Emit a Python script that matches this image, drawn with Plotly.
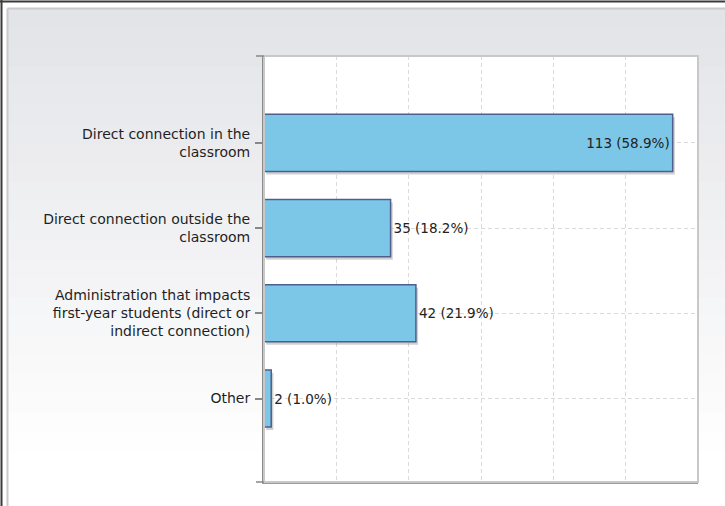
import plotly.graph_objects as go

# data
categories = [
    "Direct connection in the<br>classroom",
    "Direct connection outside the<br>classroom",
    "Administration that impacts<br>first-year students (direct or<br>indirect connection)",
    "Other",
]
counts = [113, 35, 42, 2]
percents = [58.9, 18.2, 21.9, 1.0]
labels = [f"{c} ({p:.1f}%)" for c, p in zip(counts, percents)]

W, H = 725, 506
L, R, T, B = 264, 698, 56, 482


def px_x(x):
    return (x - L) / (R - L)


def px_y(y):
    return (B - y) / (B - T)


fig = go.Figure()

# soft shadow behind the bars
fig.add_trace(
    go.Bar(
        x=counts,
        y=categories,
        orientation="h",
        width=0.67,
        offset=-0.30,
        base=0.6,
        marker=dict(color="rgba(120,120,120,0.35)", line=dict(width=0)),
        hoverinfo="skip",
        showlegend=False,
    )
)

fig.add_trace(
    go.Bar(
        x=counts,
        y=categories,
        orientation="h",
        width=0.67,
        marker=dict(color="#7cc7e8", line=dict(color="#4e5f8e", width=1.5)),
        text=labels,
        textposition=["inside", "outside", "outside", "outside"],
        insidetextanchor="end",
        insidetextfont=dict(color="#222222", size=13.5),
        outsidetextfont=dict(color="#222222", size=13.5),
        cliponaxis=False,
        showlegend=False,
    )
)

# background gradient panel
shapes = []
n = 24
top_c = (227, 228, 232)
bot_c = (255, 255, 255)
y0, y1 = 9, 470
for i in range(n):
    t = i / (n - 1)
    c = tuple(int(round(a + (b - a) * t)) for a, b in zip(top_c, bot_c))
    ya = y0 + (y1 - y0) * i / n
    yb = y0 + (y1 - y0) * (i + 1) / n
    shapes.append(dict(
        type="rect", xref="paper", yref="paper", layer="below",
        x0=px_x(8), x1=px_x(W + 5), y0=px_y(ya), y1=px_y(yb + 1 if i < n - 1 else H + 5),
        fillcolor="rgb(%d,%d,%d)" % c, line=dict(width=0),
    ))
# white plot area
shapes.append(dict(type="rect", xref="paper", yref="paper", layer="below",
                   x0=0, x1=1, y0=0, y1=1, fillcolor="white", line=dict(width=0)))
# frame lines
shapes.append(dict(type="line", xref="paper", yref="paper", x0=px_x(0), x1=px_x(W + 5),
                   y0=px_y(1.5), y1=px_y(1.5), line=dict(color="#3a3a3a", width=2)))
shapes.append(dict(type="line", xref="paper", yref="paper", x0=px_x(1.5), x1=px_x(1.5),
                   y0=px_y(0), y1=px_y(H + 5), line=dict(color="#3a3a3a", width=2)))
shapes.append(dict(type="line", xref="paper", yref="paper", x0=px_x(7.5), x1=px_x(W + 5),
                   y0=px_y(8.5), y1=px_y(8.5), line=dict(color="#c9c9cc", width=2)))
shapes.append(dict(type="line", xref="paper", yref="paper", x0=px_x(7.5), x1=px_x(7.5),
                   y0=px_y(8.5), y1=px_y(H + 5), line=dict(color="#c9c9cc", width=2)))
# plot border (top/right lighter)
shapes.append(dict(type="rect", xref="paper", yref="paper", x0=0, x1=1, y0=0, y1=1,
                   line=dict(color="#c8c8c8", width=2)))
# corner ticks
shapes.append(dict(type="line", xref="paper", yref="paper", x0=px_x(256), x1=0,
                   y0=1, y1=1, line=dict(color="#888888", width=1.5)))
shapes.append(dict(type="line", xref="paper", yref="paper", x0=px_x(256), x1=0,
                   y0=0, y1=0, line=dict(color="#888888", width=1.5)))

fig.update_layout(
    width=W,
    height=H,
    margin=dict(l=L, r=W - R, t=T, b=H - B),
    paper_bgcolor="white",
    plot_bgcolor="rgba(0,0,0,0)",
    barmode="overlay",
    font=dict(family="DejaVu Sans, sans-serif", size=14, color="#1f1f1f"),
    shapes=shapes,
    xaxis=dict(
        range=[0, 120],
        dtick=20,
        showticklabels=False,
        showgrid=True,
        gridcolor="#dadada",
        griddash="4px,3px",
        gridwidth=1,
        zeroline=False,
        showline=True,
        linecolor="#9a9a9a",
        linewidth=2,
        ticks="",
        fixedrange=True,
    ),
    yaxis=dict(
        type="category",
        categoryorder="array",
        categoryarray=categories,
        range=[3.98, -1.02],
        showgrid=True,
        gridcolor="#dadada",
        griddash="4px,3px",
        showline=True,
        linecolor="#8a8a8a",
        linewidth=2,
        ticks="outside",
        ticklen=7,
        tickcolor="#888888",
        tickwidth=1.5,
        ticklabelstandoff=2,
        fixedrange=True,
    ),
)

fig.write_html(
    "out.html",
    config={"displayModeBar": False},
    post_script="document.body.style.margin='0';document.body.style.overflow='hidden';",
)
